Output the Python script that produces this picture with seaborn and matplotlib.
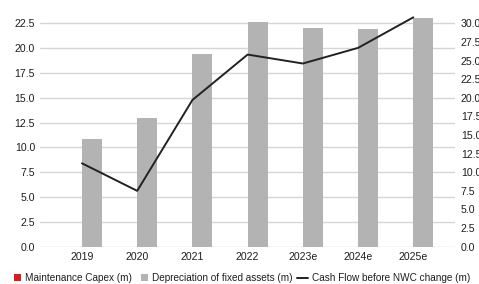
import numpy as np
import pandas as pd
import matplotlib
matplotlib.use("Agg")
import matplotlib.pyplot as plt
import seaborn as sns
from matplotlib.lines import Line2D
from matplotlib.patches import Rectangle
from matplotlib.legend_handler import HandlerBase

years = ["2019", "2020", "2021", "2022", "2023e", "2024e", "2025e"]
maint_capex = [0, 0, 0, 0, 0, 0, 0]
depreciation = [10.8, 13.0, 19.4, 22.6, 22.0, 21.9, 23.0]
cash_flow = [11.2, 7.5, 19.7, 25.8, 24.6, 26.7, 30.8]

left_ticks = np.arange(0, 22.6, 2.5)
right_ticks = np.arange(0, 30.1, 2.5)

sns.set_theme(style="white")
plt.rcParams["font.family"] = ["Liberation Sans", "DejaVu Sans"]

df = pd.DataFrame({
    "year": years * 2,
    "value": maint_capex + depreciation,
    "series": ["Maintenance Capex (m)"] * len(years) + ["Depreciation of fixed assets (m)"] * len(years),
})

W, H = 479, 284
fig = plt.figure(figsize=(W / 100, H / 100), dpi=100)
y0_px, ytop_px = 246.7, 23.3          # pixel rows of 0 and 22.5
top_px = 12
unit = (y0_px - ytop_px) / 22.5
ax = fig.add_axes([40 / W, 1 - y0_px / H, (455 - 40) / W, (y0_px - top_px) / H])

red = "#e3161d"
gray = "#b3b3b3"
dark = "#222222"
txt = "#1e1e1e"

sns.barplot(data=df, x="year", y="value", hue="series", ax=ax,
            palette=[red, gray], width=0.72, gap=0, legend=False,
            saturation=1, edgecolor="none")

ax2 = ax.twinx()
sns.lineplot(x=np.arange(len(years)), y=cash_flow, ax=ax2, color=dark, lw=1.4)

ymax = (y0_px - top_px) / unit
ax.set_xlim(-0.76, 6.755)
ax.set_ylim(0, ymax)
ax2.set_ylim(0, ymax * 4 / 3)
ax.set_yticks(left_ticks)
ax.set_yticklabels([f"{v:.1f}" for v in left_ticks])
ax2.set_yticks(right_ticks)
ax2.set_yticklabels([f"{v:.1f}" for v in right_ticks])
ax.set_xlabel("")
ax.set_ylabel("")
ax2.set_ylabel("")

ax.yaxis.grid(True, color="#d6d6d6", lw=1)
ax.set_axisbelow(True)
for a in (ax, ax2):
    for s in a.spines.values():
        s.set_visible(False)
    a.tick_params(length=0, labelsize=7.6, colors=txt)
ax.tick_params(axis="y", pad=3.6)
ax.tick_params(axis="x", pad=4)
ax2.tick_params(axis="y", pad=4.2)


class SquareHandler(HandlerBase):
    def __init__(self, color, size):
        super().__init__()
        self.color = color
        self.size = size

    def create_artists(self, legend, orig_handle, xdescent, ydescent, width, height, fontsize, trans):
        s = self.size
        r = Rectangle((-xdescent + width - s, -ydescent + (height - s) / 2), s, s,
                      facecolor=self.color, edgecolor="none", transform=trans)
        return [r]


class LineHandler(HandlerBase):
    def create_artists(self, legend, orig_handle, xdescent, ydescent, width, height, fontsize, trans):
        y = -ydescent + height / 2
        ln = Line2D([-xdescent, -xdescent + width], [y, y], color=dark, lw=1.4, transform=trans)
        return [ln]


h1 = Rectangle((0, 0), 1, 1)
h2 = Rectangle((0, 0), 1, 1)
h3 = Line2D([], [])
labels = ["Maintenance Capex (m)", "Depreciation of fixed assets (m)", "Cash Flow before NWC change (m)"]
fs = 7.2
em = fs / 72 * 100
fig.legend([h1, h2, h3], labels, loc="center left", bbox_to_anchor=(10 / W, 1 - 278 / H),
           ncol=3, frameon=False, fontsize=fs, borderpad=0, borderaxespad=0,
           handlelength=11 / em, handletextpad=4 / em, columnspacing=5 / em,
           labelcolor=txt,
           handler_map={h1: SquareHandler(red, 5.0), h2: SquareHandler(gray, 5.0), h3: LineHandler()})

fig.savefig("out.png", dpi=100)
